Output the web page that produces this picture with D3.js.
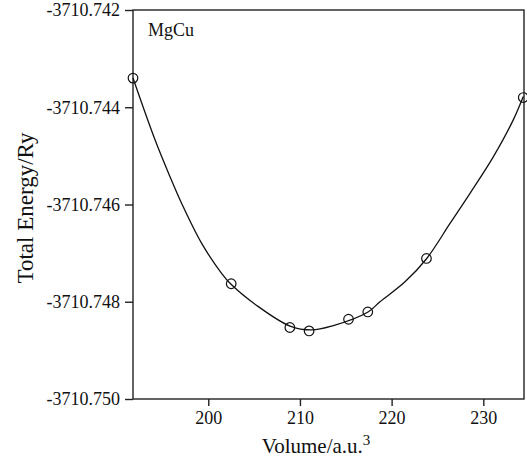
<!DOCTYPE html>
<html>
<head>
  <script src="https://d3js.org/d3.v7.min.js"></script>
  <style>
    body { margin: 0; background: #fff; }
    text { font-family: "Liberation Serif", "Times New Roman", serif; }
  </style>
</head>
<body>

<svg width="527" height="460"></svg>

<script>
  // calculated points (volume in a.u.^3, energy in Ry)
  const volume = [191.79, 202.5, 208.9, 211.0, 215.3, 217.4, 223.8, 234.36];
  const energy = [-3710.74340, -3710.74763, -3710.74853, -3710.74860,
                  -3710.74836, -3710.74821, -3710.74711, -3710.74380];

  // fitted curve
  const fitVolume = [191.79, 194.19, 195.83, 197.10, 199.28, 201.47, 202.37, 205.46,
                     208.92, 211.3, 213.47, 217.43, 218.73, 221.46, 223.83, 226.37,
                     228.55, 231.09, 233.27, 234.36];
  const fitEnergy = [-3710.74340, -3710.74467, -3710.74543, -3710.74598, -3710.74680,
                     -3710.74742, -3710.74762, -3710.74810, -3710.74850, -3710.74858,
                     -3710.74850, -3710.74821, -3710.74800, -3710.74759, -3710.74711,
                     -3710.74639, -3710.74577, -3710.74502, -3710.74426, -3710.74378];

  const xTicks = [200, 210, 220, 230];
  const yTicks = [-3710.742, -3710.744, -3710.746, -3710.748, -3710.750];

  const margin = {top: 10, right: 3, bottom: 61, left: 133};
  const width = 527 - margin.left - margin.right;
  const height = 460 - margin.top - margin.bottom;

  const svg = d3.select("svg");
  const g = svg.append("g")
    .attr("transform", `translate(${margin.left},${margin.top})`);

  const xScale = d3.scaleLinear()
    .domain([191.79, 234.44])
    .range([0, width]);

  const yScale = d3.scaleLinear()
    .domain([-3710.750, -3710.742])
    .range([height, 0]);

  // frame
  g.append("rect")
    .attr("width", width)
    .attr("height", height)
    .attr("fill", "none")
    .attr("stroke", "#222")
    .attr("stroke-width", 1.4);

  const xAxis = g.append("g")
    .attr("transform", `translate(0,${height})`)
    .call(d3.axisBottom(xScale).tickValues(xTicks).tickSize(7).tickSizeOuter(0).tickPadding(5));

  const yAxis = g.append("g")
    .call(d3.axisLeft(yScale).tickValues(yTicks).tickSize(8).tickSizeOuter(0).tickPadding(5)
      .tickFormat(d => d.toFixed(3)));

  [xAxis, yAxis].forEach(a => {
    a.select(".domain").remove();
    a.selectAll("line").attr("stroke", "#222").attr("stroke-width", 1.4);
    a.selectAll("text")
      .attr("font-family", "Liberation Serif")
      .attr("font-size", 18)
      .attr("fill", "#111");
  });

  // fit line
  const line = d3.line()
    .x((d, i) => xScale(fitVolume[i]))
    .y((d, i) => yScale(fitEnergy[i]))
    .curve(d3.curveCatmullRom);

  g.append("path")
    .datum(fitVolume)
    .attr("d", line)
    .attr("fill", "none")
    .attr("stroke", "#111")
    .attr("stroke-width", 1.3);

  //points
  g.selectAll("circle")
    .data(volume)
    .enter().append("circle")
    .attr("cx", d => xScale(d))
    .attr("cy", (d, i) => yScale(energy[i]))
    .attr("r", 4.8)
    .attr("fill", "none")
    .attr("stroke", "#111")
    .attr("stroke-width", 1.2);

  g.append("text")
    .attr("x", 15)
    .attr("y", 26)
    .attr("font-size", 18)
    .attr("fill", "#111")
    .text("MgCu");

  // axis titles
  const xTitle = svg.append("text")
    .attr("x", 316)
    .attr("y", 453)
    .attr("text-anchor", "middle")
    .attr("font-size", 21)
    .attr("fill", "#111");
  xTitle.append("tspan").text("Volume/a.u.");
  xTitle.append("tspan").attr("dy", -8).attr("font-size", 15).text("3");

  svg.append("text")
    .attr("transform", "rotate(-90)")
    .attr("x", -208)
    .attr("y", 33)
    .attr("text-anchor", "middle")
    .attr("font-size", 23)
    .attr("fill", "#111")
    .text("Total Energy/Ry");
</script>

</body>
</html>
